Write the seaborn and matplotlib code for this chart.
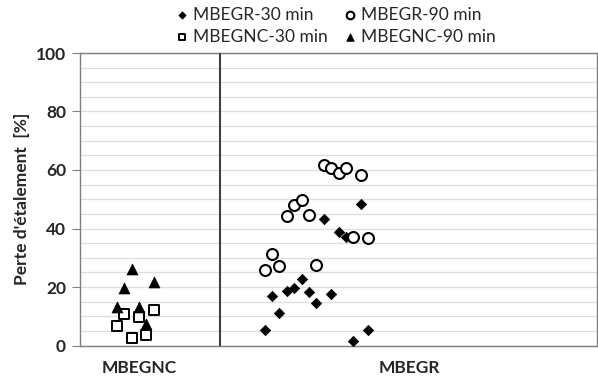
import matplotlib
matplotlib.use("Agg")
import matplotlib.pyplot as plt
import seaborn as sns
import pandas as pd

# Data (x = sample position on the axis)
x_gnc = [5, 6, 7, 8, 9, 10]
gnc_30 = [6.5, 10.6, 2.6, 9.7, 3.5, 12.2]
gnc_90 = [13.1, 19.6, 26.3, 13.1, 7.4, 21.7]

x_gr = [25, 26, 27, 28, 29, 30, 31, 32, 33, 34, 35, 36, 37, 38, 39]
gr_30 = [5.4, 16.9, 11.2, 18.5, 19.6, 22.9, 18.4, 14.6, 43.2, 17.7, 38.8, 37.0, 1.7, 48.5, 5.4]
gr_90 = [25.7, 31.2, 27.1, 44.2, 47.9, 49.9, 44.6, 27.4, 61.6, 60.7, 59.0, 60.7, 37.1, 58.2, 36.9]

groups = ["MBEGNC", "MBEGR"]
group_label_x = [8.0, 44.6]
divider_x = 19

sns.set_theme(style="white")
plt.rcParams["font.family"] = ["Lato", "DejaVu Sans"]

fig = plt.figure(figsize=(5.98, 3.8), dpi=100)
ax = fig.add_axes([80 / 598, 1 - 345.5 / 380, 517 / 598, 292.5 / 380])

series = [
    ("MBEGR-30 min", x_gr, gr_30, "D", "black", 28, 0.5),
    ("MBEGNC-30 min", x_gnc, gnc_30, "s", "white", 50, 1.4),
    ("MBEGR-90 min", x_gr, gr_90, "o", "white", 62, 1.5),
    ("MBEGNC-90 min", x_gnc, gnc_90, "^", "black", 62, 0.5),
]
for name, xs, ys, mk, fc, s, lw in series:
    df = pd.DataFrame({"x": xs, "y": ys})
    sns.scatterplot(data=df, x="x", y="y", marker=mk, s=s, color=fc,
                    edgecolor="black", linewidth=lw, ax=ax, label=name, zorder=3)

ax.set_xlim(0, 70)
ax.set_ylim(0, 100)
ax.set_yticks(range(0, 101, 20))
ax.set_yticks(range(0, 101, 5), minor=True)
ax.yaxis.grid(True, which="both", color="#dedede", linewidth=0.9)
ax.set_axisbelow(True)
ax.set_xticks([])
ax.tick_params(axis="y", which="major", left=True, length=6, width=0.8,
               color="#808080", labelsize=12.5, pad=4)
ax.tick_params(axis="y", which="minor", left=False)
for lbl in ax.get_yticklabels():
    lbl.set_fontweight("bold")
for sp in ax.spines.values():
    sp.set_color("#7f7f7f")
    sp.set_linewidth(1.0)

ax.axvline(divider_x, color="#404040", linewidth=1.5, zorder=4)

for g, gx in zip(groups, group_label_x):
    ax.text(gx, -5.0, g, ha="center", va="top", fontsize=12.5, fontweight="bold")

ax.set_xlabel("")
ax.set_ylabel("Perte d'étalement  [%]", fontsize=12.5, fontweight="bold", labelpad=4)

handles, labels = ax.get_legend_handles_labels()
ax.get_legend().remove()
fig.legend(handles, labels, ncol=2, loc="upper center", bbox_to_anchor=(334 / 598, 1.01),
           frameon=False, fontsize=12.5, handletextpad=0.1, columnspacing=0.7,
           handlelength=1.1, labelspacing=0.35, borderaxespad=0.2, markerscale=0.7)

fig.savefig("out.png", dpi=100)
